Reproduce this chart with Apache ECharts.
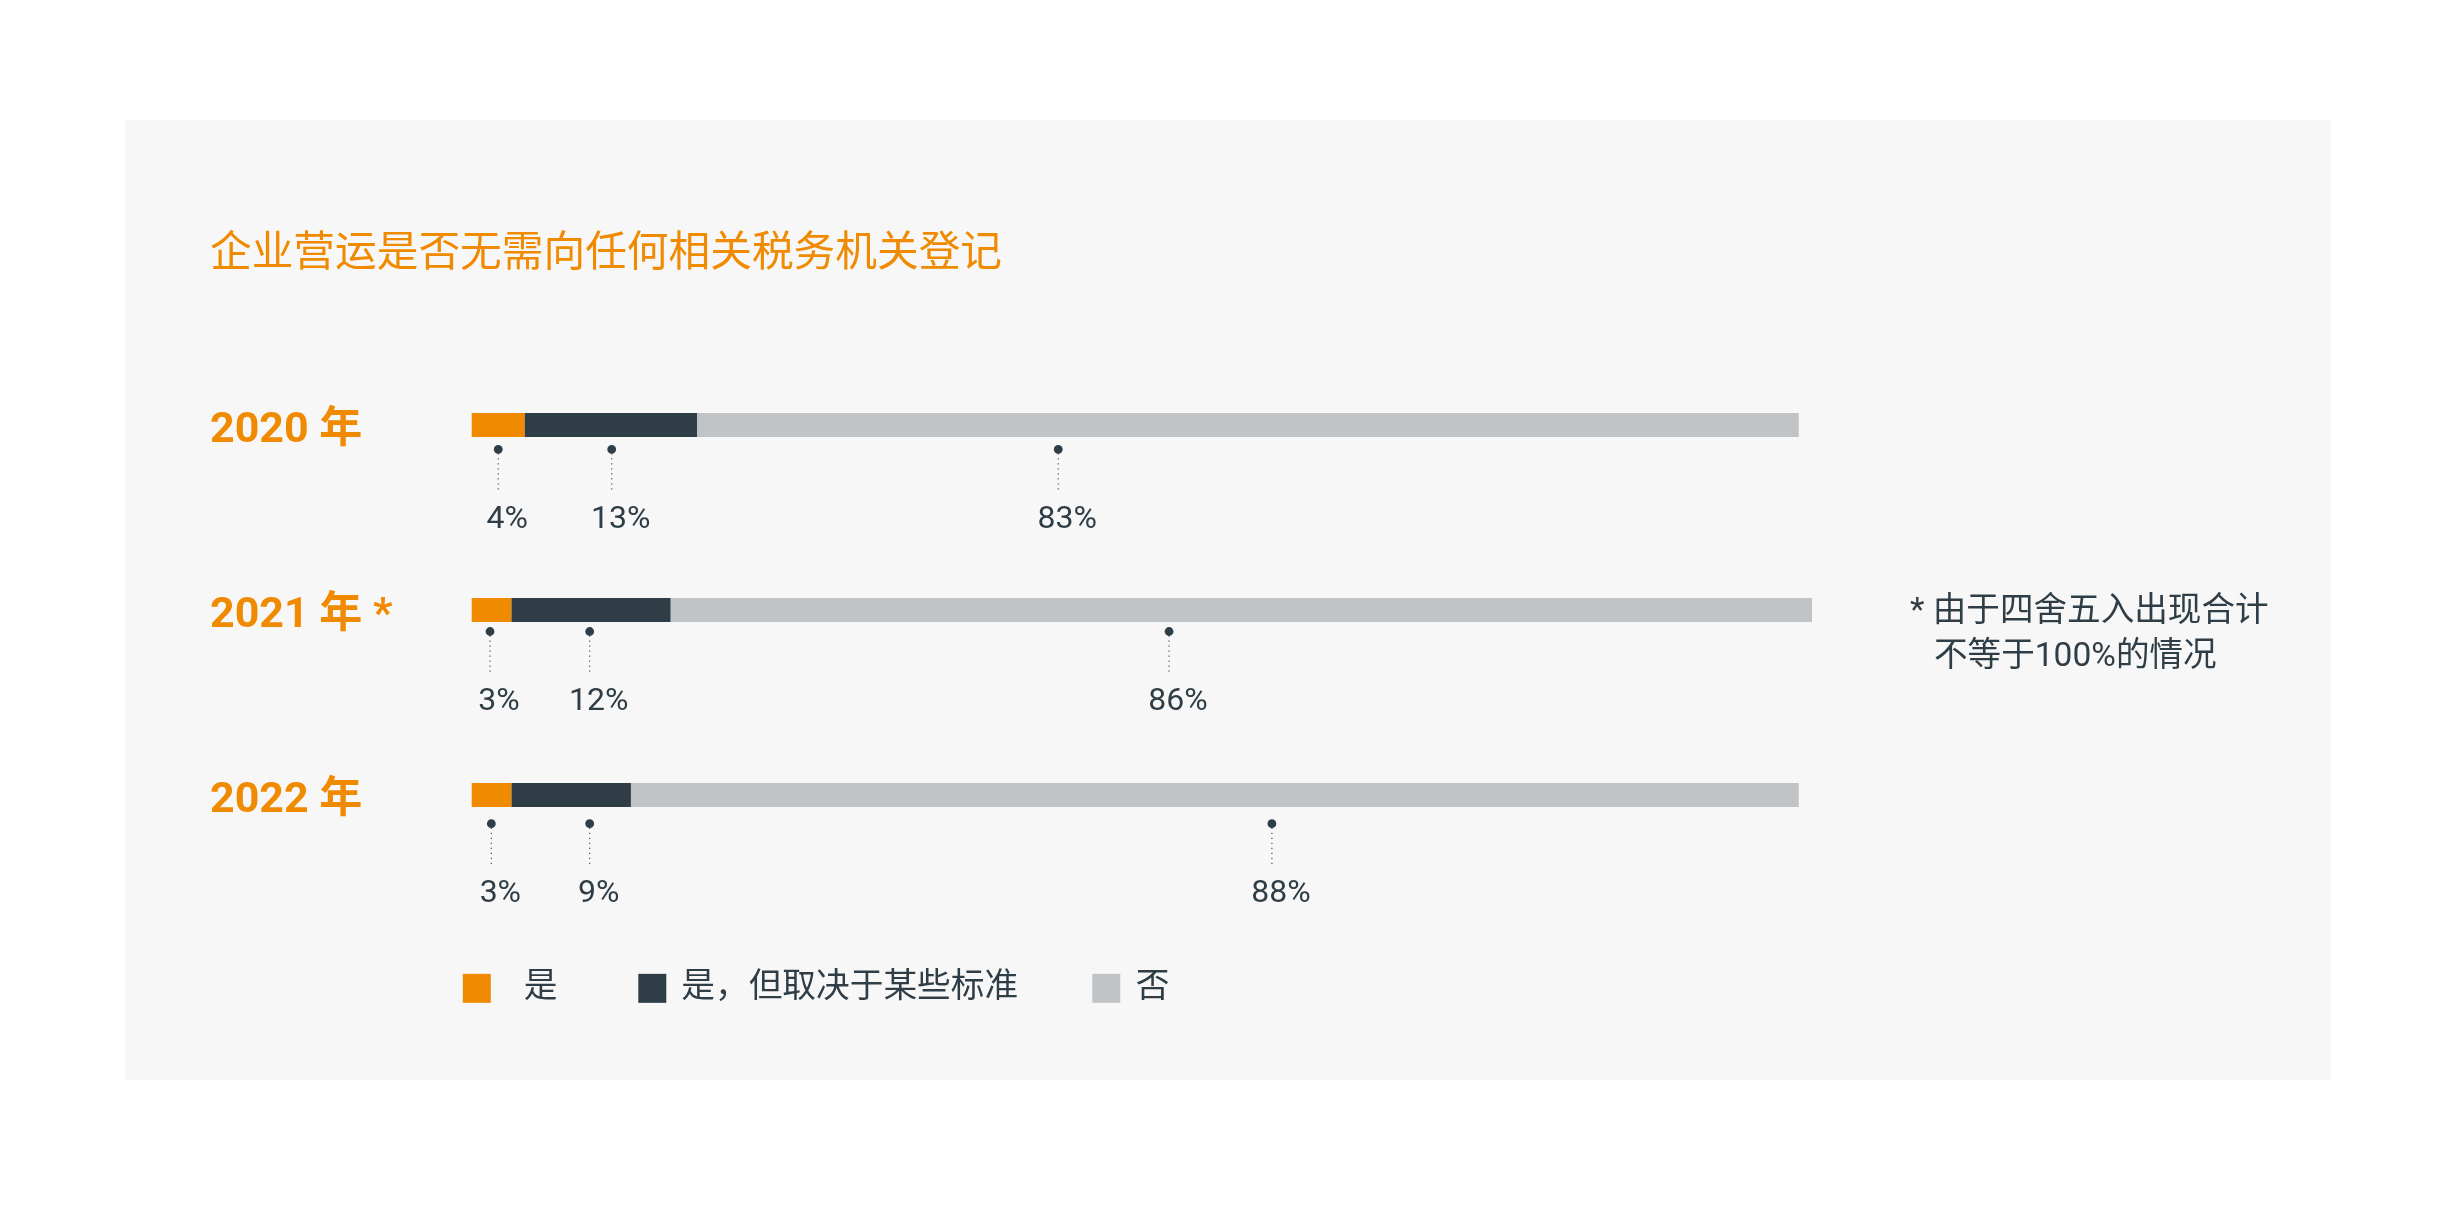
<!DOCTYPE html>
<html>
<head>
<meta charset="utf-8">
<style>
  html, body { margin: 0; padding: 0; background: #ffffff; }
  #chart { width: 2459px; height: 1205px; }
</style>
<script src="https://cdn.jsdelivr.net/npm/echarts@6/dist/echarts.min.js"></script>
</head>
<body>
<div id="chart"></div>
<script>
// ---- data ----
const titleText = '企业营运是否无需向任何相关税务机关登记';
const years = ['2020 年', '2021 年 *', '2022 年'];
const seriesNames = ['是', '是，但取决于某些标准', '否'];
const yesVals = [4, 3, 3];
const yesCondVals = [13, 12, 9];
const noVals = [83, 86, 88];
const footnoteLines = ['* 由于四舍五入出现合计', '不等于100%的情况'];

// ---- layout (anchor x of each callout in axis units, per year / per series) ----
const calloutAnchors = [[2.0, 10.55, 44.2], [1.38, 8.89, 52.55], [1.48, 8.89, 60.3]];
const calloutDrop = [24.3, 21.5, 28.7];

const ORANGE = '#F08A00';
const DARK = '#2F3D47';
const GRAY = '#C1C4C6';
const FONT = "Roboto, 'Noto Sans CJK SC', sans-serif";

const allVals = [yesVals, yesCondVals, noVals];
const colors = [ORANGE, DARK, GRAY];

const calloutData = [];
years.forEach((y, i) => {
  allVals.forEach((vals, j) => {
    calloutData.push([calloutAnchors[i][j], i, vals[i]]);
  });
});

const chart = echarts.init(document.getElementById('chart'), null, { renderer: 'canvas' });

const barSeries = seriesNames.map((name, j) => ({
  name: name,
  type: 'bar',
  stack: 'total',
  barWidth: 24,
  data: allVals[j],
  itemStyle: { color: colors[j] },
  emphasis: { disabled: true },
  z: 3
}));

const legendLefts = [462.8, 638.3, 1092.3];
const legendPads = [28, 10, 10.5];

const option = {
  animation: false,
  backgroundColor: '#ffffff',
  color: colors,
  textStyle: { fontFamily: FONT },
  graphic: [
    {
      type: 'rect', z: -10, silent: true,
      shape: { x: 125, y: 120, width: 2206, height: 960 },
      style: { fill: '#F7F7F7' }
    },
    {
      type: 'text', z: 10, silent: true,
      x: 1910, y: 612.5,
      style: { text: footnoteLines[0], fill: DARK, fontSize: 33.6, fontFamily: FONT, verticalAlign: 'middle', align: 'left' }
    },
    {
      type: 'text', z: 10, silent: true,
      x: 1934, y: 658,
      style: { text: footnoteLines[1], fill: DARK, fontSize: 33.6, fontFamily: FONT, verticalAlign: 'middle', align: 'left' }
    }
  ],
  title: {
    text: titleText,
    left: 210,
    top: 235,
    padding: 0,
    textStyle: { fontSize: 41.7, fontWeight: 'normal', color: ORANGE, lineHeight: 42, fontFamily: FONT }
  },
  legend: seriesNames.map((name, j) => ({
    data: [name],
    left: legendLefts[j],
    top: 971.5,
    padding: 0,
    itemWidth: 28,
    itemHeight: 29,
    icon: 'rect',
    selectedMode: false,
    textStyle: { fontSize: 33.7, color: DARK, fontFamily: FONT, padding: [0, 0, 0, legendPads[j]] }
  })),
  grid: {
    left: 471.7,
    top: 332.5,
    width: 1340.3,
    height: 555,
    containLabel: false
  },
  xAxis: {
    type: 'value',
    min: 0,
    max: 101,
    show: false
  },
  yAxis: {
    type: 'category',
    inverse: true,
    data: years,
    axisLine: { show: false },
    axisTick: { show: false },
    splitLine: { show: false },
    axisLabel: {
      align: 'left',
      margin: 261.7,
      formatter: function (v) { return '{y|' + v + '}'; },
      rich: {
        y: {
          fontSize: 43,
          fontWeight: 'bold',
          color: ORANGE,
          fontFamily: FONT,
          lineHeight: 43,
          padding: [12, 0, 0, 0]
        }
      }
    }
  },
  series: barSeries.concat([{
    type: 'custom',
    name: 'callouts',
    clip: false,
    silent: true,
    z: 5,
    encode: { x: 0, y: 1 },
    data: calloutData,
    renderItem: function (params, api) {
      const x = api.value(0), c = api.value(1), v = api.value(2);
      const p = api.coord([x, c]);
      const cx = p[0];
      const cy = p[1] + calloutDrop[c];
      return {
        type: 'group',
        children: [
          {
            type: 'line',
            shape: { x1: cx, y1: cy + 4, x2: cx, y2: cy + 42.5 },
            style: { stroke: '#55606a', lineWidth: 1.3, lineDash: [1.3, 3.7] }
          },
          {
            type: 'circle',
            shape: { cx: cx, cy: cy, r: 4.4 },
            style: { fill: DARK }
          },
          {
            type: 'text',
            x: cx + 9,
            y: cy + 70.5,
            style: { text: v + '%', fill: DARK, fontSize: 32, fontFamily: FONT, align: 'center', verticalAlign: 'middle' }
          }
        ]
      };
    }
  }])
};

chart.setOption(option);
</script>
</body>
</html>
